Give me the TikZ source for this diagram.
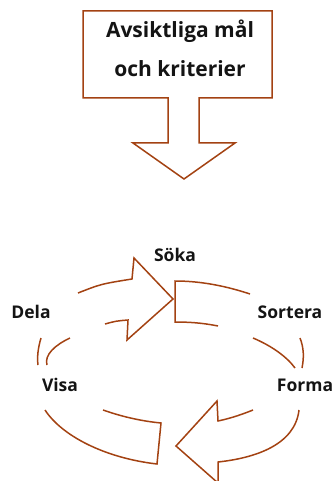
\documentclass[tikz,border=0pt]{standalone}
\usepackage{fontspec}
\setmainfont{Open Sans}
\usepackage{xcolor}
\usepackage{tikz}
\definecolor{arcbrown}{RGB}{163,66,18}
\definecolor{textblack}{RGB}{20,20,20}

\begin{document}
\begin{tikzpicture}[x=1pt,y=-1pt,
    brownline/.style={draw=arcbrown,line width=1.5pt,line join=miter},
    cyclelabel/.style={anchor=base,inner sep=0pt,text=textblack,font=\bfseries\fontsize{17.5}{21}\selectfont},
    goaltext/.style={anchor=base,inner sep=0pt,align=center,text=textblack,font=\bfseries\fontsize{21}{39}\selectfont}]
\useasboundingbox (0,0) rectangle (333,481);
\clip (0,0) rectangle (333,481);
\draw[brownline] (83,11) -- (272,11) -- (272,98) -- (199,98) -- (199,143) -- (235,143) -- (184,179) -- (133,143) -- (168,143) -- (168,98) -- (83,98) -- cycle;
\node[goaltext] (goal) at (180,77) {Avsiktliga mål\\och kriterier};
\draw[brownline] (78,293) .. controls (101,284) .. (132,279) -- (134,258) -- (173,299) -- (127,340) -- (128,320) .. controls (116,321) .. (105,324);
\draw[brownline] (250,294) .. controls (220,284) and (195,281) .. (175,281) -- (175,322) .. controls (195,322) and (208,324) .. (218,326);
\draw[brownline] (253,338) .. controls (272,346) and (287,357) .. (295,368);
\draw[brownline] (300,338) .. controls (304,348) and (304,358) .. (302,368);
\draw[brownline] (299,410) .. controls (295,445) and (255,458) .. (218,462) -- (218,483) -- (176,446) -- (217,401) -- (218,421) .. controls (232,418) and (243,414) .. (253,410);
\draw[brownline] (45,410) .. controls (62,436) and (105,458) .. (157,464) -- (161,423) .. controls (140,421) and (120,416) .. (103,410);
\draw[brownline] (41,338) .. controls (38,348) and (37,357) .. (38,365);
\draw[brownline] (70,338) .. controls (55,345) and (44,355) .. (47,365);
\node[cyclelabel] (soka) at (175,261) {Söka};
\node[cyclelabel] (sortera) at (290,318) {Sortera};
\node[cyclelabel] (forma) at (305,391) {Forma};
\node[cyclelabel] (visa) at (60,391) {Visa};
\node[cyclelabel] (dela) at (31,318) {Dela};
\end{tikzpicture}
\end{document}
